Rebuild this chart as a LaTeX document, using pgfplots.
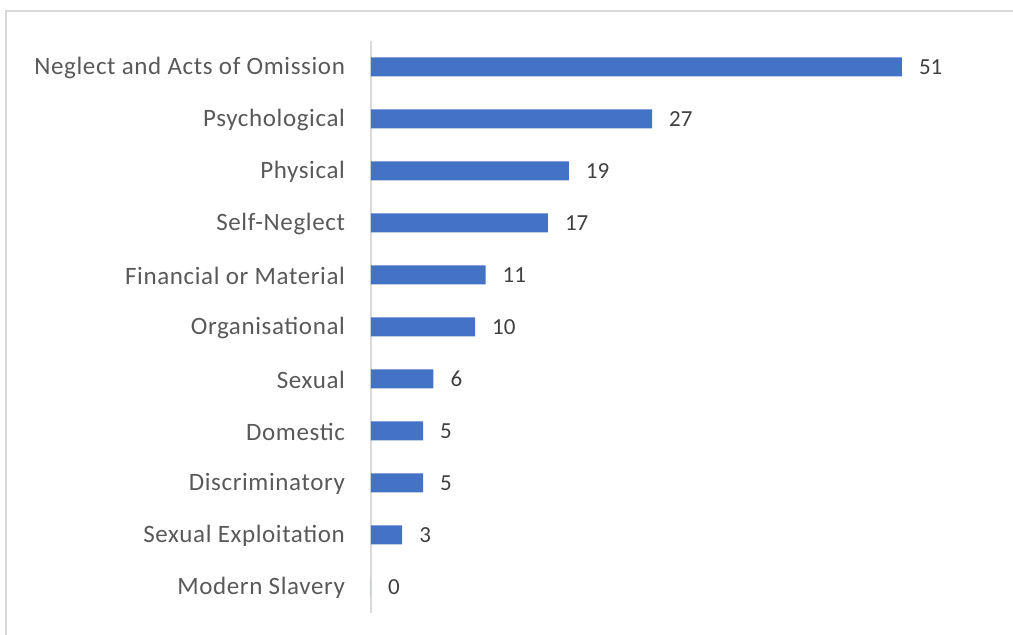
\documentclass[border=0pt]{standalone}
\usepackage{fontspec}
\setmainfont{Carlito}
\newfontfamily\labfont[LetterSpace=2.5]{Carlito}
\usepackage{pgfplots}
\pgfplotsset{compat=1.18}
\definecolor{barblue}{HTML}{4472C4}
\definecolor{labgray}{HTML}{595959}
\definecolor{numgray}{HTML}{404040}
\definecolor{linegray}{HTML}{D9D9D9}
\begin{document}
\begin{tikzpicture}
\useasboundingbox (0,0) rectangle (506.5pt,317.5pt);
\draw[linegray, line width=0.8pt] (3pt,0) -- (3pt,312pt) -- (506.5pt,312pt);
\begin{axis}[
  at={(185.5pt,11pt)}, anchor=south west,
  scale only axis, width=265.5pt, height=286pt,
  xmin=0, xmax=51, ymin=-0.5, ymax=10.5,
  xbar, bar width=9.5pt,
  axis x line=none,
  axis y line=left,
  y axis line style={draw=linegray, line width=0.6pt, -},
  ytick={0,...,10},
  yticklabels={Modern Slavery, Sexual Exploitation, Discriminatory, Domestic, Sexual, Organisational, Financial or Material, Self-Neglect, Physical, Psychological, Neglect and Acts of Omission},
  major tick length=0pt,
  yticklabel style={font=\labfont\fontsize{12.5}{14}\selectfont, text=labgray, xshift=-9.5pt, yshift=-0.5pt},
  /pgf/number format/assume math mode=true,
  nodes near coords,
  nodes near coords style={font=\fontsize{11.5}{13}\selectfont, text=numgray, anchor=west, xshift=5pt},
  clip=false,
]
\addplot[fill=barblue, draw=none] coordinates {
 (0,0) (3,1) (5,2) (5,3) (6,4) (10,5) (11,6) (17,7) (19,8) (27,9) (51,10)
};
\end{axis}
\end{tikzpicture}
\end{document}
